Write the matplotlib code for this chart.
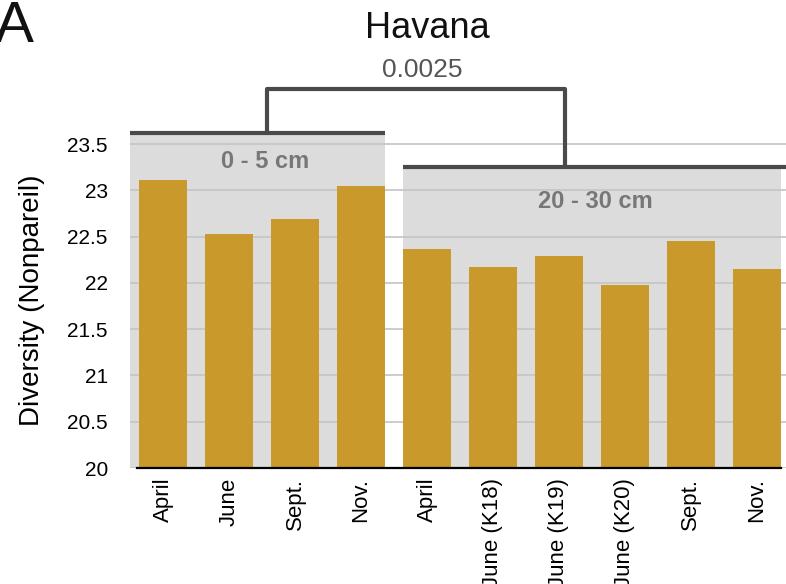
import matplotlib
matplotlib.use("Agg")
import matplotlib.pyplot as plt
from matplotlib.patches import Rectangle

plt.rcParams['font.family'] = ['Liberation Sans', 'DejaVu Sans']

# data
labels = ["April", "June", "Sept.", "Nov.",
          "April", "June (K18)", "June (K19)", "June (K20)", "Sept.", "Nov."]
diversity = [23.11, 22.53, 22.69, 23.05,
             22.37, 22.17, 22.29, 21.98, 22.45, 22.15]
group_names = ["0 - 5 cm", "20 - 30 cm"]
group_sizes = [4, 6]
p_value = "0.0025"
site = "Havana"

bar_color = '#C9992C'
panel_color = '#DCDCDC'
bracket_color = '#4A4A4A'
width = 0.73

fig = plt.figure(figsize=(7.86, 5.84), dpi=100)
ax = fig.add_axes([130 / 786, 1 - 468 / 584, 656 / 786, (468 - 133) / 584])

x = list(range(len(diversity)))
ax.set_xlim(-0.5, 9.44)
ax.set_ylim(20, 23.62)

# gray panels behind each depth group
start = 0
panel_tops = [23.62, 23.25]
panels = []
for i, n in enumerate(group_sizes):
    left = -0.5 if i == 0 else start - width / 2
    right = start + n - 1 + width / 2
    panels.append((left, right))
    ax.add_patch(Rectangle((left, 20), right - left, panel_tops[i] - 20,
                           color=panel_color, zorder=0, lw=0))
    start += n

ax.set_yticks([20, 20.5, 21, 21.5, 22, 22.5, 23, 23.5])
ax.set_yticklabels(["20", "20.5", "21", "21.5", "22", "22.5", "23", "23.5"])
ax.grid(axis='y', color='#C4C4C4', lw=1.2, zorder=1)
ax.set_axisbelow(True)

ax.bar(x, [d - 20 for d in diversity], bottom=20, width=width,
       color=bar_color, zorder=2)

ax.set_xticks(x)
ax.set_xticklabels(labels, rotation=90, fontsize=16, va='top')
ax.tick_params(axis='x', length=0, pad=7)
ax.tick_params(axis='y', length=0, pad=16, labelsize=15)
for s in ax.spines.values():
    s.set_visible(False)
ax.plot([-0.4, panels[1][1]], [20, 20], color='black', lw=1.6, zorder=3,
        clip_on=False)

ax.set_ylabel("Diversity (Nonpareil)", fontsize=20, labelpad=16)

# group labels
ax.text(1.55, 23.31, group_names[0], ha='center', va='center',
        fontsize=17, fontweight='bold', color='#777777', zorder=4)
ax.text(6.55, 22.88, group_names[1], ha='center', va='center',
        fontsize=17, fontweight='bold', color='#777777', zorder=4)

# significance bracket
top = 24.10
v1, v2 = 1.58, 6.09
kw = dict(color=bracket_color, lw=3, clip_on=False, zorder=5,
          solid_capstyle='butt')
ax.plot([panels[0][0], panels[0][1]], [panel_tops[0], panel_tops[0]], **kw)
ax.plot([panels[1][0], 9.44], [panel_tops[1], panel_tops[1]], **kw)
ax.plot([v1, v1, v2, v2], [panel_tops[0], top, top, panel_tops[1]], **kw)

fig.text(422 / 786, 1 - 70 / 584, p_value, ha='center', va='center',
         fontsize=19, color='#555555')
fig.text(427 / 786, 1 - 29 / 584, site, ha='center', va='center',
         fontsize=26, color='#111111')
fig.text(-0.006, 1 - 42 / 584, "A", ha='left', va='baseline', fontsize=42,
         color='#111111')

fig.savefig("out.png", dpi=100)
